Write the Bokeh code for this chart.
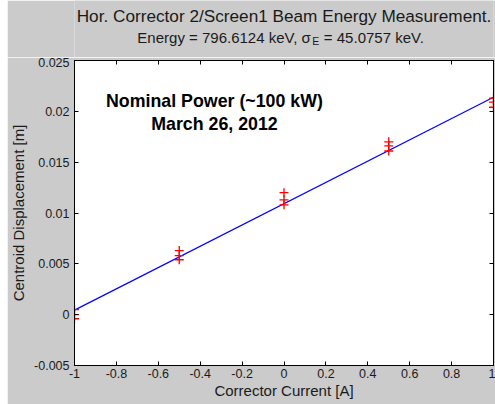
from bokeh.plotting import figure
from bokeh.layouts import column
from bokeh.models import LinearAxis, FixedTicker, Label, Range1d, ColumnDataSource
from bokeh.embed import file_html
from bokeh.resources import INLINE

# ---- data ----
current_x = [-1.0, -1.0, -1.0,
             -0.5, -0.5, -0.5,
             0.0, 0.0, 0.0,
             0.5, 0.5, 0.5,
             1.0, 1.0, 1.0]
displacement_y = [0.0005, 0.0000, -0.0004,
                  0.0063, 0.0058, 0.0054,
                  0.0120, 0.0113, 0.0108,
                  0.0170, 0.0166, 0.0161,
                  0.0213, 0.0209, 0.0204]
fit_x = [-1.0, 1.0]
fit_y = [0.00045, 0.02138]

x_ticks = [-1.0, -0.8, -0.6, -0.4, -0.2, 0.0, 0.2, 0.4, 0.6, 0.8, 1.0]
x_tick_labels = ["-1", "-0.8", "-0.6", "-0.4", "-0.2", "0", "0.2", "0.4", "0.6", "0.8", "1"]
y_ticks = [-0.005, 0.0, 0.005, 0.01, 0.015, 0.02, 0.025]
y_tick_labels = ["-0.005", "0", "0.005", "0.01", "0.015", "0.02", "0.025"]

title_text = "Hor. Corrector 2/Screen1 Beam Energy Measurement."
sub_left = "Energy = 796.6124 keV, \u03c3"
sub_sub = "E"
sub_right = "= 45.0757 keV."
note_1 = "Nominal Power (~100 kW)"
note_2 = "March 26, 2012"

FONT = "Liberation Sans"
TXT = "#1a1a1a"
BG = "#cbcbcb"
W = 488
TOP_H = 57
MAIN_H = 347

x_range = Range1d(-1, 1)

# ---- title strip: x shares the plot's data range, y in pixels ----
t = figure(width=W, height=TOP_H, x_range=x_range, y_range=Range1d(0, TOP_H),
           x_axis_type=None, y_axis_type=None, min_border=0,
           min_border_left=65, min_border_right=2,
           output_backend="svg", toolbar_location=None,
           background_fill_color=BG, border_fill_color=BG, outline_line_color=None)
t.title.visible = False
t.grid.visible = False
t.add_layout(Label(x=0.0, y=TOP_H - 15, text=title_text, text_align="center",
                   text_baseline="alphabetic", text_font=FONT,
                   text_font_size="17.2px", text_color=TXT))
t.add_layout(Label(x=-0.70, y=TOP_H - 36.5, text=sub_left, text_align="left",
                   text_baseline="alphabetic", text_font=FONT,
                   text_font_size="15px", text_color=TXT))
t.add_layout(Label(x=-0.70, x_offset=175, y=TOP_H - 40, text=sub_sub, text_align="left",
                   text_baseline="alphabetic", text_font=FONT,
                   text_font_size="10.5px", text_color=TXT))
t.add_layout(Label(x=-0.70, x_offset=186.5, y=TOP_H - 36.5, text=sub_right, text_align="left",
                   text_baseline="alphabetic", text_font=FONT,
                   text_font_size="15px", text_color=TXT))

# ---- main plot ----
p = figure(width=W, height=MAIN_H,
           x_range=x_range, y_range=Range1d(-0.005, 0.025),
           output_backend="svg", toolbar_location=None,
           min_border_left=65, min_border_right=2,
           min_border_top=3, min_border_bottom=39,
           background_fill_color="white", border_fill_color=BG,
           outline_line_color="black", outline_line_width=1)
p.title.visible = False
p.grid.visible = False

p.xaxis.ticker = FixedTicker(ticks=x_ticks)
p.xaxis.major_label_overrides = dict(zip(x_ticks, x_tick_labels))
p.yaxis.ticker = FixedTicker(ticks=y_ticks)
p.yaxis.major_label_overrides = dict(zip(y_ticks, y_tick_labels))
p.xaxis.axis_label = "Corrector Current [A]"
p.yaxis.axis_label = "Centroid Displacement [m]"

for ax in (p.xaxis[0], p.yaxis[0]):
    ax.major_tick_in = 4
    ax.major_tick_out = 0
    ax.minor_tick_line_color = None
    ax.axis_line_color = "black"
    ax.major_tick_line_color = "black"
    ax.major_label_text_font = FONT
    ax.major_label_text_font_size = "12.5px"
    ax.major_label_text_color = TXT
    ax.axis_label_text_font = FONT
    ax.axis_label_text_font_size = "15px"
    ax.axis_label_text_font_style = "normal"
    ax.axis_label_text_color = TXT
p.xaxis.major_label_standoff = 3
p.xaxis.axis_label_standoff = 1
p.yaxis.major_label_standoff = 5
p.yaxis.axis_label_standoff = 4

# tick marks (no labels) on top and right, drawn as minor ticks
top_ax = LinearAxis(ticker=FixedTicker(ticks=[], minor_ticks=x_ticks))
right_ax = LinearAxis(ticker=FixedTicker(ticks=[], minor_ticks=y_ticks))
for ax in (top_ax, right_ax):
    ax.minor_tick_in = 4
    ax.minor_tick_out = 0
    ax.major_tick_in = 0
    ax.major_tick_out = 0
    ax.minor_tick_line_color = "black"
    ax.axis_line_color = "black"
    ax.major_label_standoff = 0
p.add_layout(top_ax, "above")
p.add_layout(right_ax, "right")

p.line(fit_x, fit_y, line_color="#0000ff", line_width=1.2)
src = ColumnDataSource(dict(x=current_x, y=displacement_y))
p.scatter("x", "y", source=src, marker="cross", size=9,
          line_color="#ff0000", line_width=1.3)

# annotation
p.add_layout(Label(x=-0.332, y=0.02105, text=note_1, text_align="center",
                   text_baseline="alphabetic", text_font=FONT,
                   text_font_size="17.8px", text_font_style="bold", text_color="black"))
p.add_layout(Label(x=-0.332, y=0.01879, text=note_2, text_align="center",
                   text_baseline="alphabetic", text_font=FONT,
                   text_font_size="17.8px", text_font_style="bold", text_color="black"))

layout = column(t, p, spacing=0, margin=(0, 0, 0, 7))
open("out.html", "w").write(file_html(layout, INLINE))
